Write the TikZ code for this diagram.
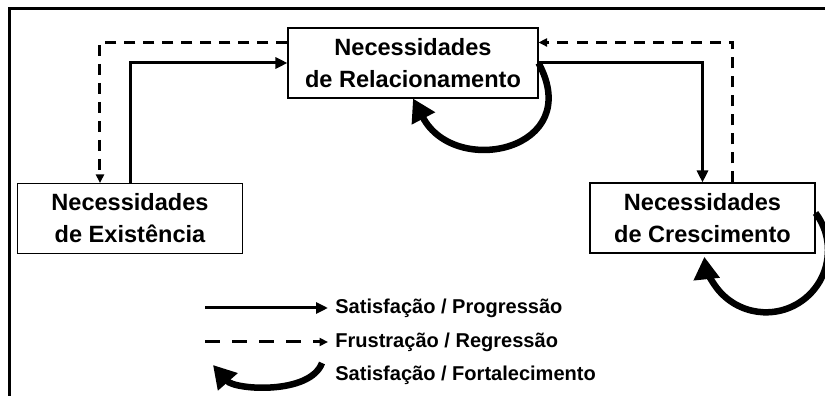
\documentclass[tikz,border=0pt]{standalone}
\usepackage{fontspec}
\setmainfont{Liberation Sans}
\usetikzlibrary{positioning, arrows.meta}

\begin{document}
\begin{tikzpicture}[>={Triangle[length=0.24cm,width=0.22cm]}, node distance=3cm, on grid,
					need/.style={draw, line width=0.6pt, fill=white, align=center,
						minimum width=4.5cm, minimum height=1.4cm,
						font=\fontsize{13.4}{18.2}\selectfont\bfseries},
					prog/.style={->, line width=0.06cm},
					regr/.style={-{Triangle[length=0.17cm,width=0.16cm]}, line width=0.06cm,
						dash pattern=on 0.22cm off 0.16cm},
					fort/.style={-{Triangle[length=0.45cm,width=0.5cm]}, line width=0.13cm},
					leg/.style={anchor=west, inner sep=0.14cm,
						font=\fontsize{11.4}{13}\selectfont\bfseries} ]
					\useasboundingbox (0,0) rectangle (16.5,-7.92);
					\draw[line width=0.06cm] (16.6,-0.18) -| (0.2,-8);
					
					\node[need, minimum width=5cm] (rel) at (8.26,-1.26) {Necessidades\\de Relacionamento};
					\node[need] (ex) [below left=3.11cm and 5.66cm of rel]  {Necessidades\\de Existência};
					\node[need] (cr) [below right=3.1cm and 5.79cm of rel]  {Necessidades\\de Crescimento};
					
					%Setas entre as necessidades
					\draw[prog] (ex.north) |- (rel.west);
					\draw[prog] (rel.east) -| (cr.north);
					\draw[regr] ([yshift=-0.3cm]rel.north west) -| ([xshift=-0.6cm]ex.north);
					\draw[regr] ([xshift=0.6cm]cr.north) |- ([yshift=-0.3cm]rel.north east);
					\draw[fort] (rel.east) .. controls +(0.94,-1.74) and +(0.84,-1.6) .. (rel.south);
					\draw[fort] ([yshift=0.1cm]cr.east) arc[start angle=37, end angle=-174, radius=1.24cm];
					
					%Legenda
					\node[leg] (lprog) at (6.56,-6.16) {Satisfação / Progressão};
					\node[leg] (lregr) at (6.56,-6.84) {Frustração / Regressão};
					\node[leg] (lfort) at (6.56,-7.5)  {Satisfação / Fortalecimento};
					\draw[prog] ([xshift=-2.46cm]lprog.west) -- (lprog.west);
					\draw[regr, dash pattern=on 0.3cm off 0.24cm] ([xshift=-2.46cm]lregr.west) -- (lregr.west);
					\draw[fort] ([shift={(-0.12,0.24)}]lfort.west) .. controls +(-0.24,-0.64) and +(0.44,-0.5) .. ([shift={(-2.3,0.2)}]lfort.west);
				\end{tikzpicture}
\end{document}
